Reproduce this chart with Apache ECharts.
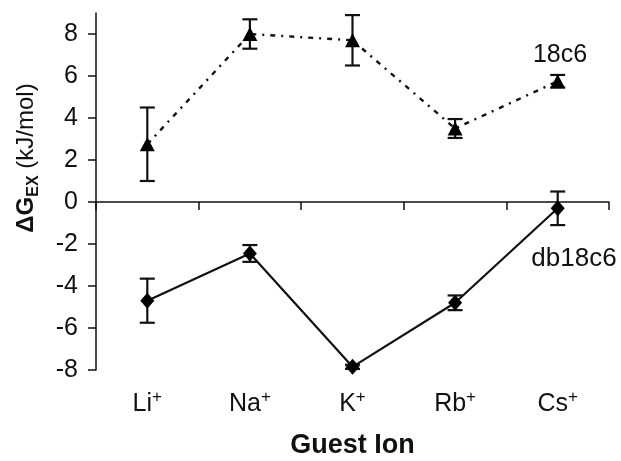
<!DOCTYPE html>
<html>
<head>
<meta charset="utf-8">
<script src="https://cdn.jsdelivr.net/npm/echarts@6/dist/echarts.min.js"></script>
<style>
  html, body { margin: 0; padding: 0; background: #fff; }
  #chart { width: 621px; height: 461px; }
</style>
</head>
<body>
<div id="chart"></div>
<script>
// guest ions on the x axis (a superscript + is added by the label formatter)
const ions = ['Li', 'Na', 'K', 'Rb', 'Cs'];
const yTicks = [-8, -6, -4, -2, 0, 2, 4, 6, 8];

// 18c6 (triangles, dotted)
const crown = [2.75, 8.0, 7.7, 3.5, 5.75];
const crownErr = [1.75, 0.7, 1.2, 0.45, 0.3];

// db18c6 (diamonds, solid)
const dbCrown = [-4.7, -2.45, -7.85, -4.8, -0.3];
const dbCrownErr = [1.05, 0.4, 0.1, 0.35, 0.8];

const font = '"Liberation Sans", Arial, sans-serif';

const chart = echarts.init(document.getElementById('chart'));

function errData(vals, errs) {
    return vals.map((v, i) => [i, v - errs[i], v + errs[i]]);
}

function renderErr(params, api) {
    const x = api.value(0);
    const lo = api.coord([x, api.value(1)]);
    const hi = api.coord([x, api.value(2)]);
    const w = 7.5;
    const style = { stroke: '#111', lineWidth: 2.2 };
    return {
        type: 'group',
        children: [
            { type: 'line', shape: { x1: hi[0], y1: hi[1], x2: lo[0], y2: lo[1] }, style },
            { type: 'line', shape: { x1: hi[0] - w, y1: hi[1], x2: hi[0] + w, y2: hi[1] }, style },
            { type: 'line', shape: { x1: lo[0] - w, y1: lo[1], x2: lo[0] + w, y2: lo[1] }, style }
        ]
    };
}

chart.setOption({
    animation: false,
    grid: { left: 96, right: 12, top: 13, bottom: 91, outerBoundsMode: 'none' },
    xAxis: [
        {
            type: 'category',
            data: ions,
            position: 'bottom',
            axisLine: { show: false, onZero: false },
            axisTick: { show: false },
            axisLabel: {
                margin: 19,
                formatter: v => `{m|${v}}{s|+}`,
                rich: {
                    m: { fontFamily: font, fontSize: 25, color: '#111', lineHeight: 30 },
                    s: { fontFamily: font, fontSize: 17, color: '#111', lineHeight: 17, verticalAlign: 'top' }
                }
            },
            name: 'Guest Ion',
            nameLocation: 'middle',
            nameGap: 62,
            nameTextStyle: { fontFamily: font, fontSize: 27, fontWeight: 'bold', color: '#111' }
        },
        {
            type: 'category',
            data: ions,
            position: 'top',
            axisLine: { show: true, onZero: true, lineStyle: { color: '#111', width: 1.5 } },
            axisTick: { show: true, inside: true, length: 8, lineStyle: { color: '#111', width: 1.5 } },
            axisLabel: { show: false }
        }
    ],
    yAxis: {
        type: 'value',
        min: -8,
        max: 9,
        interval: 2,
        splitLine: { show: false },
        axisLine: { show: true, lineStyle: { color: '#111', width: 1.5 } },
        axisTick: { show: true, length: 8, customValues: yTicks, lineStyle: { color: '#111', width: 1.5 } },
        axisLabel: { customValues: yTicks, fontFamily: font, fontSize: 25, color: '#111', margin: 18 }
    },
    graphic: [
        {
            type: 'text',
            x: 26,
            y: 158,
            rotation: Math.PI / 2,
            style: {
                text: '{a|\u0394G}{b|EX}{c| (kJ/mol)}',
                align: 'center',
                verticalAlign: 'middle',
                fill: '#111',
                rich: {
                    a: { fontFamily: font, fontSize: 24, fontWeight: 'bold', lineHeight: 32, fill: '#111' },
                    b: { fontFamily: font, fontSize: 16, fontWeight: 'bold', lineHeight: 14, verticalAlign: 'bottom', fill: '#111' },
                    c: { fontFamily: font, fontSize: 24, lineHeight: 32, fill: '#111' }
                }
            }
        },
        {
            type: 'text', x: 560, y: 55,
            style: { text: '18c6', fontFamily: font, fontSize: 25, fill: '#111', align: 'center', verticalAlign: 'middle' }
        },
        {
            type: 'text', x: 574, y: 259,
            style: { text: 'db18c6', fontFamily: font, fontSize: 26, fill: '#111', align: 'center', verticalAlign: 'middle' }
        }
    ],
    series: [
        {
            name: '18c6 err',
            type: 'custom',
            renderItem: renderErr,
            encode: { x: 0, y: [1, 2] },
            data: errData(crown, crownErr),
            z: 1
        },
        {
            name: 'db18c6 err',
            type: 'custom',
            renderItem: renderErr,
            encode: { x: 0, y: [1, 2] },
            data: errData(dbCrown, dbCrownErr),
            z: 1
        },
        {
            name: '18c6',
            type: 'line',
            data: crown,
            symbol: 'triangle',
            symbolSize: [15, 14],
            itemStyle: { color: '#000' },
            lineStyle: { color: '#111', width: 2.4, type: [5, 6, 2, 6] },
            z: 3
        },
        {
            name: 'db18c6',
            type: 'line',
            data: dbCrown,
            symbol: 'diamond',
            symbolSize: [14, 16],
            itemStyle: { color: '#000' },
            lineStyle: { color: '#111', width: 2.2 },
            z: 3
        }
    ]
});
</script>
</body>
</html>
